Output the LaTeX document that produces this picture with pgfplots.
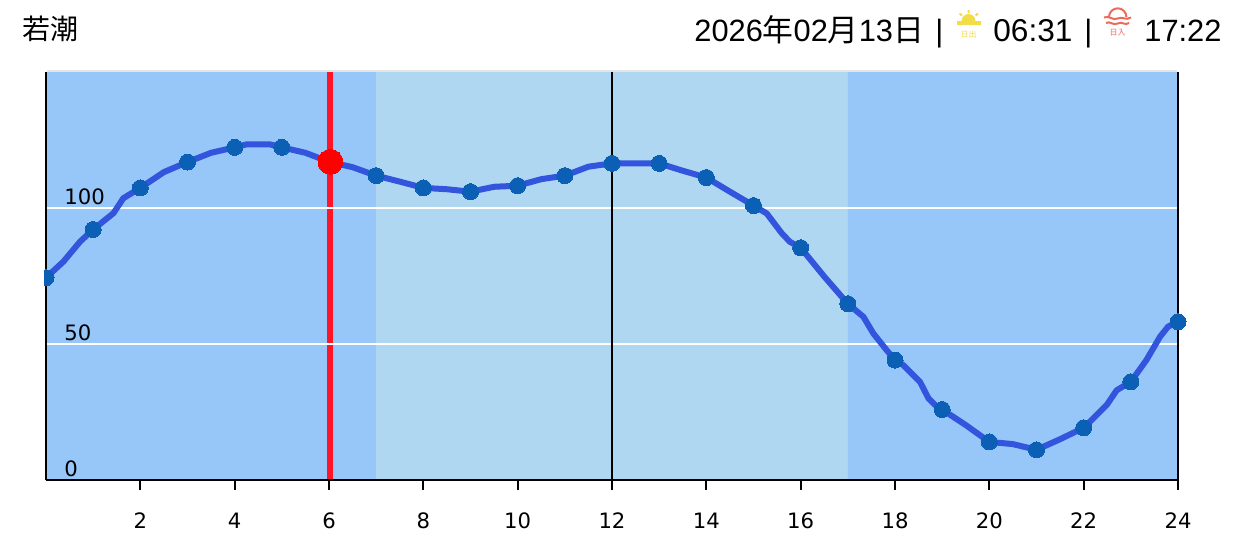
\documentclass[border=0pt]{standalone}
\usepackage{fontspec}
\usepackage{pgfplots}
\pgfplotsset{compat=1.18}
\setmainfont{Liberation Sans}
\newfontfamily\cjk{Noto Sans CJK JP}
\newfontfamily\tickfont{DejaVu Sans}
\definecolor{banddark}{HTML}{96C7F8}
\definecolor{bandlight}{HTML}{AFD7F1}
\definecolor{tideline}{HTML}{3355DD}
\definecolor{tidemark}{HTML}{0B5FB5}
\definecolor{nowred}{HTML}{FF1428}
\definecolor{sunyellow}{HTML}{F2DC48}
\definecolor{setred}{HTML}{EE6A5A}
\begin{document}
\begin{tikzpicture}[x=0.5pt,y=-0.5pt]
\path (0,0) rectangle (1242,541);
\begin{axis}[
  at={(23pt,-240pt)}, anchor=south west,
  scale only axis, width=566pt, height=204pt,
  xmin=0, xmax=24, ymin=0, ymax=150,
  clip=false, set layers=standard,
  axis x line=bottom, axis y line=left,
  axis line style={-, black, line width=1pt},
  xtick={2,4,...,24}, ytick={0,50,100},
  x tick style={black, line width=1pt},
  y tick style={draw=none},
  tick align=outside, major tick length=5pt,
  /pgf/number format/assume math mode=true,
  tick label style={font=\tickfont\fontsize{10.6}{12}\selectfont, black},
  xticklabel style={anchor=base, yshift=-19pt},
  yticklabel style={anchor=west, inner sep=0pt, xshift=14pt, yshift=5.5pt},
]
\addplot[on layer=axis background, draw=none, fill=banddark] coordinates {(0,0) (7,0) (7,150) (0,150)} \closedcycle;
\addplot[on layer=axis background, draw=none, fill=bandlight] coordinates {(7,0) (17,0) (17,150) (7,150)} \closedcycle;
\addplot[on layer=axis background, draw=none, fill=banddark] coordinates {(17,0) (24,0) (24,150) (17,150)} \closedcycle;
\addplot[on layer=axis background, nowred, line width=3pt] coordinates {(6.03,0) (6.03,150)};
\addplot[on layer=axis background, white, line width=1pt] coordinates {(0,50) (24,50)};
\addplot[on layer=axis background, white, line width=1pt] coordinates {(0,100) (24,100)};
\addplot[on layer=axis background, black, line width=1pt] coordinates {(12,0) (12,150)};
\addplot[on layer=axis background, black, line width=1pt] coordinates {(24,0) (24,150)};
\addplot[tideline, line width=3pt, line join=round, no marks] coordinates {
(0,74.4)(0.37,80.3)(0.72,87.6)(1,92.1)(1.43,98.1)(1.64,103.6)(2,107.4)(2.5,113.2)(3,116.9)(3.5,120.3)
(4,122.3)(4.25,123.4)(4.75,123.4)(5,122.3)(5.5,120.3)(6,117)(6.5,115)(7,111.9)(7.5,109.7)
(8,107.4)(8.5,106.9)(9,106)(9.5,107.8)(10,108.2)(10.5,110.6)(11,111.9)(11.5,115.2)
(12,116.4)(12.5,116.4)(13,116.4)(13.5,113.7)(14,111.2)(14.5,106)(15,100.9)(15.28,98)(15.6,90.7)(15.77,87.6)
(16,85.4)(16.5,74.8)(17,64.8)(17.33,60)(17.54,53.9)(17.82,47.8)(18,44.1)(18.17,42.3)(18.53,36.1)(18.71,30)(18.85,27.6)(19,25.9)(19.5,20.2)
(20,14)(20.5,13.2)(21,11.1)(21.5,15)(22,19.2)(22.49,27.6)(22.7,33)(23,36.1)(23.33,44.1)(23.62,52.7)(23.79,56.4)(24,58.2)};
\addplot[only marks, mark=*, mark size=4pt, mark options={solid, line width=0pt, draw=tidemark, fill=tidemark}] coordinates {
(0,74.4)(1,92.1)(2,107.4)(3,116.9)(4,122.3)(5,122.3)(6,117)(7,111.9)(8,107.4)(9,106)(10,108.2)(11,111.9)
(12,116.4)(13,116.4)(14,111.2)(15,100.9)(16,85.4)(17,64.8)(18,44.1)(19,25.9)(20,14)(21,11.1)(22,19.2)(23,36.1)(24,58.2)};
\addplot[only marks, mark=*, mark size=6.2pt, mark options={solid, line width=0pt, draw=red, fill=red}] coordinates {(6.03,117)};
\end{axis}
% top edge and the clipped left part of the first mark
\fill[white] (30,262) rectangle (44.3,293);
\draw[black!10, line width=1pt] (47,71) -- (1177,71);
% header
\node[anchor=base west, inner sep=0pt] at (22,39) {\cjk\fontsize{14}{16}\selectfont 若潮};
\node[anchor=base west, inner sep=0pt] at (694,41) {\fontsize{15.4}{17}\selectfont 2026{\cjk 年}02{\cjk 月}13{\cjk 日}};
\node[anchor=base west, inner sep=0pt] at (935,41) {\fontsize{15.4}{17}\selectfont |};
\node[anchor=base west, inner sep=0pt] at (993,41) {\fontsize{15.8}{17}\selectfont 06:31};
\node[anchor=base west, inner sep=0pt] at (1084,41) {\fontsize{15.4}{17}\selectfont |};
\node[anchor=base west, inner sep=0pt] at (1144,41) {\fontsize{15.4}{17}\selectfont 17:22};
% sunrise icon
\fill[sunyellow] (957,21) rectangle (981,25);
\fill[sunyellow] (961.5,21) arc[start angle=180, end angle=360, radius=7] -- cycle;
\draw[sunyellow, line width=1pt] (968.7,10) -- (968.7,13) (959.5,13.5) -- (962,15.5) (978,13.5) -- (975.5,15.5);
\node[sunyellow, inner sep=0pt] at (968.7,34) {\cjk\fontsize{4}{4}\selectfont 日出};
% sunset icon
\draw[setred, line width=1pt] (1109,17) arc[start angle=180, end angle=360, radius=8.7];
\draw[setred, line width=1pt] (1104,17.5) .. controls (1109,15) and (1113,21) .. (1117.7,18.5) .. controls (1122,16) and (1126,21) .. (1131,17.5);
\draw[setred, line width=1pt] (1106,23) .. controls (1110,20.5) and (1113,26) .. (1117.7,23.5) .. controls (1122,21) and (1125,26) .. (1129,23);
\node[setred, inner sep=0pt] at (1117.7,33) {\cjk\fontsize{4}{4}\selectfont 日入};
\end{tikzpicture}
\end{document}
